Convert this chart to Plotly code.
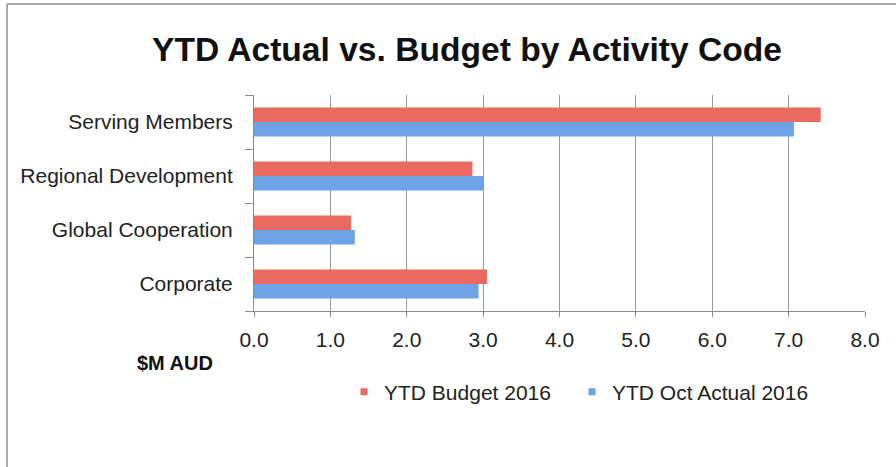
import plotly.graph_objects as go

# Activity codes, listed bottom-to-top as drawn on the category axis
activities = ["Corporate", "Global Cooperation", "Regional Development", "Serving Members"]
budget_2016 = [3.05, 1.27, 2.86, 7.42]        # YTD Budget 2016, $M AUD
actual_oct_2016 = [2.94, 1.32, 3.00, 7.07]    # YTD Oct Actual 2016, $M AUD
x_ticks = [0, 1, 2, 3, 4, 5, 6, 7, 8]
x_tick_labels = ["0.0", "1.0", "2.0", "3.0", "4.0", "5.0", "6.0", "7.0", "8.0"]

RED = "#ea6a62"
BLUE = "#6ea3e8"
FONT = "Liberation Sans, Arial, Helvetica, sans-serif"

W, H = 896, 467
L, R, T, B = 254, 31, 95, 156
plot_w = W - L - R
plot_h = H - T - B


def px_to_paper_x(px):
    return (px - L) / plot_w


def px_to_paper_y(py):
    return (H - B - py) / plot_h


fig = go.Figure()

# Grouped horizontal bars: the first trace sits lower within each group
fig.add_trace(go.Bar(
    y=activities, x=actual_oct_2016, orientation="h",
    name="YTD Oct Actual 2016", marker=dict(color=BLUE, line=dict(width=0)),
    showlegend=False,
))
fig.add_trace(go.Bar(
    y=activities, x=budget_2016, orientation="h",
    name="YTD Budget 2016", marker=dict(color=RED, line=dict(width=0)),
    showlegend=False,
))

# Legend entries with small square swatches, one legend box each
for name, color, legend_id in [("YTD Budget 2016", RED, "legend"),
                               ("YTD Oct Actual 2016", BLUE, "legend2")]:
    fig.add_trace(go.Scatter(
        x=[None], y=[None], mode="markers", name=name,
        marker=dict(symbol="square", size=7, color=color),
        showlegend=True, legend=legend_id,
    ))

legend_style = dict(
    orientation="h", xanchor="left",
    y=px_to_paper_y(392), yanchor="middle",
    font=dict(family=FONT, size=21, color="#222222"),
    bgcolor="rgba(0,0,0,0)",
)

fig.update_layout(
    width=W, height=H,
    margin=dict(l=L, r=R, t=T, b=B),
    paper_bgcolor="white", plot_bgcolor="white",
    barmode="group", bargap=0.46, bargroupgap=0,
    font=dict(family=FONT, size=21, color="#222222"),
    title=dict(
        text="<b>YTD Actual vs. Budget by Activity Code</b>",
        x=467 / W, xanchor="center",
        y=1 - 49 / H, yanchor="middle",
        font=dict(family=FONT, size=33.6, color="#111111"),
    ),
    xaxis=dict(
        range=[0, 8], tickmode="array", tickvals=x_ticks, ticktext=x_tick_labels,
        showgrid=True, gridcolor="#9a9a9a", gridwidth=1,
        showline=True, linecolor="#8a8a8a", linewidth=1,
        ticks="outside", ticklen=5, tickcolor="#8a8a8a",
        ticklabelstandoff=5,
        zeroline=False, fixedrange=True,
        tickfont=dict(family=FONT, size=21, color="#222222"),
    ),
    yaxis=dict(
        categoryorder="array", categoryarray=activities,
        showline=True, linecolor="#8a8a8a", linewidth=1,
        ticks="outside", ticklen=8, tickcolor="#8a8a8a",
        tickson="boundaries", ticklabelstandoff=16,
        showgrid=False, zeroline=False, fixedrange=True,
        tickfont=dict(family=FONT, size=21, color="#222222"),
    ),
    legend=dict(x=px_to_paper_x(344), **legend_style),
    legend2=dict(x=px_to_paper_x(572), **legend_style),
    annotations=[
        dict(
            text="<b>$M AUD</b>", xref="paper", yref="paper",
            x=px_to_paper_x(135), y=px_to_paper_y(363),
            xanchor="left", yanchor="middle", showarrow=False,
            font=dict(family=FONT, size=20, color="#111111"),
        )
    ],
    shapes=[
        # chart frame: top and left edges
        dict(type="line", xref="paper", yref="paper",
             x0=px_to_paper_x(7), x1=px_to_paper_x(W), y0=px_to_paper_y(4), y1=px_to_paper_y(4),
             line=dict(color="#8c8c8c", width=1.5)),
        dict(type="line", xref="paper", yref="paper",
             x0=px_to_paper_x(7), x1=px_to_paper_x(7), y0=px_to_paper_y(4), y1=px_to_paper_y(H),
             line=dict(color="#8c8c8c", width=1.5)),
    ],
)

fig.write_html("out.html", config={"displayModeBar": False})
